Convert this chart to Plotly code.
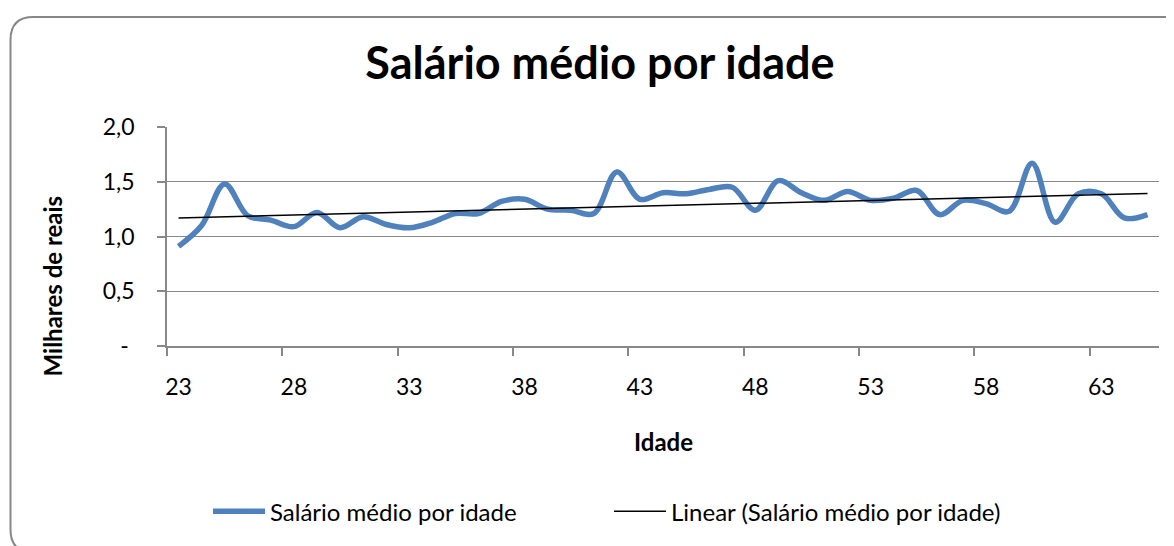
import numpy as np
import plotly.graph_objects as go

# ---- data ----
idades = list(range(23, 66))
salario_medio = [0.91, 1.10, 1.48, 1.19, 1.15, 1.09, 1.22, 1.08, 1.18, 1.11,
                 1.08, 1.13, 1.21, 1.21, 1.32, 1.34, 1.25, 1.24, 1.21, 1.59,
                 1.34, 1.40, 1.39, 1.43, 1.45, 1.24, 1.51, 1.40, 1.33, 1.41,
                 1.33, 1.35, 1.42, 1.20, 1.33, 1.30, 1.23, 1.67, 1.13, 1.39,
                 1.39, 1.17, 1.20]
x_tick_vals = [23, 28, 33, 38, 43, 48, 53, 58, 63]
x_tick_text = ["23", "28", "33", "38", "43", "48", "53", "58", "63"]
x_boundaries = [22.5, 27.5, 32.5, 37.5, 42.5, 47.5, 52.5, 57.5, 62.5]
y_tick_vals = [0, 0.5, 1.0, 1.5, 2.0]
y_tick_text = ["-\u00a0", "0,5", "1,0", "1,5", "2,0"]

# linear trend (least squares)
coef = np.polyfit(idades, salario_medio, 1)
tendencia = list(np.polyval(coef, idades))

# page offset (body margin) -> figure placed at (8, 8)
OFF = 8
W, H = 1174 - OFF, 546 - OFF
# plot area in page pixels
L, R, T, B = 167, 1159, 127.3, 348.0
PW, PH = R - L, B - T


def px(x):
    return (x - L) / PW


def py(y):
    return (B - y) / PH


FONT = "Lato"
GRAY = "#888888"

fig = go.Figure()
fig.add_trace(go.Scatter(
    x=idades, y=salario_medio, mode="lines",
    line=dict(color="#4F81BD", width=5.5, shape="spline", smoothing=1.0),
    name="Salário médio por idade"))
fig.add_trace(go.Scatter(
    x=idades, y=tendencia, mode="lines",
    line=dict(color="#000000", width=1.5),
    name="Linear (Salário médio por idade)"))

# rounded chart border
x0, x1 = px(10.5), px(1190)
y0, y1 = py(16.5), py(556)
rx, ry = 23 / PW, 23 / PH
path = (f"M {x0+rx},{y0} L {x1-rx},{y0} Q {x1},{y0} {x1},{y0-ry} "
        f"L {x1},{y1+ry} Q {x1},{y1} {x1-rx},{y1} L {x0+rx},{y1} "
        f"Q {x0},{y1} {x0},{y1+ry} L {x0},{y0-ry} Q {x0},{y0} {x0+rx},{y0} Z")
fig.add_shape(type="path", path=path, xref="paper", yref="paper",
              line=dict(color="#878787", width=2), layer="below")

fig.update_layout(
    width=W, height=H,
    margin=dict(l=L - OFF, r=W - (R - OFF), t=T - OFF, b=H - (B - OFF), pad=0),
    paper_bgcolor="white", plot_bgcolor="white",
    font=dict(family=FONT, color="#000000", size=23),
    title=dict(text="<b>Salário médio por idade</b>",
               font=dict(family=FONT, size=45, color="#000000"),
               x=(600 - OFF) / W, xanchor="center", xref="container",
               y=1 - (63 - OFF) / H, yanchor="middle", yref="container"),
    showlegend=True,
    legend=dict(orientation="h", x=px(609), xanchor="center",
                y=py(515), yanchor="middle",
                font=dict(family=FONT, size=24, color="#000000"),
                bgcolor="rgba(0,0,0,0)", entrywidth=334, itemwidth=52),
    xaxis=dict(range=[22.5, 65.5], tickmode="array", tickvals=x_tick_vals,
               ticktext=x_tick_text, ticks="outside", ticklen=8,
               tickcolor="rgba(0,0,0,0)", ticklabelstandoff=12,
               showgrid=False, zeroline=False, showline=True,
               linecolor=GRAY, linewidth=1.5,
               minor=dict(tickmode="array", tickvals=x_boundaries,
                          ticks="outside", ticklen=8, tickcolor=GRAY, tickwidth=1.5,
                          showgrid=False),
               tickfont=dict(family=FONT, size=23, color="#000000")),
    yaxis=dict(range=[0, 2], tickmode="array", tickvals=y_tick_vals,
               ticktext=y_tick_text, ticks="outside", ticklen=8,
               tickcolor=GRAY, tickwidth=1.5, ticklabelstandoff=18,
               showgrid=True, gridcolor=GRAY, gridwidth=1.3,
               zeroline=False, showline=True, linecolor=GRAY, linewidth=1.5,
               tickfont=dict(family=FONT, size=23, color="#000000")),
    annotations=[
        dict(text="<b>Idade</b>", xref="paper", yref="paper",
             x=px(663), y=py(444), xanchor="center", yanchor="middle",
             showarrow=False, font=dict(family=FONT, size=24, color="#000000")),
        dict(text="<b>Milhares de reais</b>", xref="paper", yref="paper",
             x=px(52), y=py(288), xanchor="center", yanchor="middle",
             textangle=-90, showarrow=False,
             font=dict(family=FONT, size=24, color="#000000")),
    ],
)

fig.write_html("out.html")
